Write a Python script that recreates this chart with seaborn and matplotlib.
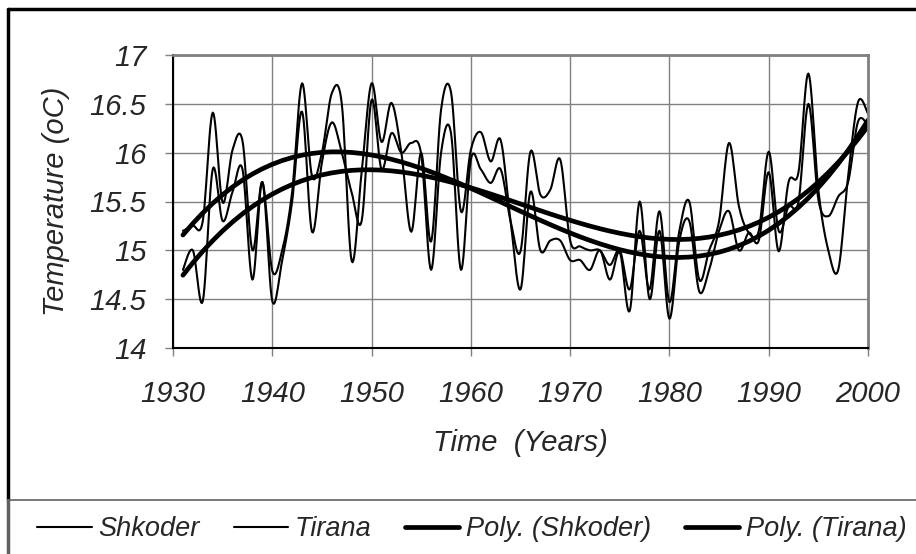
import numpy as np
import pandas as pd
import matplotlib
matplotlib.use('Agg')
import matplotlib.pyplot as plt
import seaborn as sns
from matplotlib.lines import Line2D

# data (yearly mean temperature)
years = list(range(1931, 2001))
shkoder = [15.20, 15.25, 15.30, 16.41, 15.49, 16.03, 16.12, 15.00, 15.70, 14.79,
           15.00, 15.60, 16.71, 15.76, 16.00, 16.61, 16.50, 14.89, 15.80, 16.71,
           16.11, 16.51, 16.00, 15.19, 16.00, 15.09, 16.44, 16.62, 15.40, 16.03,
           16.21, 15.91, 16.13, 15.30, 14.60, 15.60, 15.00, 15.10, 15.10, 14.90,
           14.90, 14.80, 15.00, 14.70, 14.98, 14.38, 15.50, 14.50, 15.20, 14.30,
           15.10, 15.30, 14.58, 14.80, 15.20, 15.40, 15.00, 15.18, 15.10, 15.80,
           14.99, 15.70, 15.80, 16.81, 15.62, 15.00, 14.80, 15.76, 16.52, 16.40]
tirana = [14.80, 15.00, 14.48, 15.83, 15.30, 15.60, 15.83, 14.70, 15.70, 14.48,
          14.90, 15.50, 16.42, 15.19, 15.90, 16.31, 16.00, 15.59, 15.30, 16.54,
          15.83, 16.20, 16.00, 16.10, 15.98, 14.80, 16.00, 16.20, 14.80, 15.93,
          15.83, 15.69, 15.83, 15.30, 14.99, 16.01, 15.57, 15.62, 15.93, 15.10,
          15.04, 15.00, 15.00, 14.85, 15.00, 14.60, 15.20, 14.60, 15.40, 14.47,
          15.20, 15.50, 14.70, 15.00, 15.30, 16.10, 15.45, 15.18, 15.20, 16.01,
          15.20, 15.45, 15.50, 16.50, 15.52, 15.35, 15.55, 15.70, 16.32, 16.28]
x_ticks = [1930, 1940, 1950, 1960, 1970, 1980, 1990, 2000]
y_ticks = [14, 14.5, 15, 15.5, 16, 16.5, 17]


# smooth curve through the points (like the spreadsheet "smoothed line")
def smooth(x, y, n=12):
    x = np.asarray(x, float)
    y = np.asarray(y, float)
    px = np.concatenate([[x[0]], x, [x[-1]]])
    py = np.concatenate([[y[0]], y, [y[-1]]])
    xs, ys = [], []
    for i in range(1, len(px) - 2):
        t = np.linspace(0, 1, n, endpoint=False)
        p0, p1, p2, p3 = py[i - 1], py[i], py[i + 1], py[i + 2]
        q0, q1, q2, q3 = px[i - 1], px[i], px[i + 1], px[i + 2]
        ys.append(0.5 * (2 * p1 + (-p0 + p2) * t + (2 * p0 - 5 * p1 + 4 * p2 - p3) * t ** 2
                         + (-p0 + 3 * p1 - 3 * p2 + p3) * t ** 3))
        xs.append(0.5 * (2 * q1 + (-q0 + q2) * t + (2 * q0 - 5 * q1 + 4 * q2 - q3) * t ** 2
                         + (-q0 + 3 * q1 - 3 * q2 + q3) * t ** 3))
    xs.append([x[-1]])
    ys.append([y[-1]])
    return np.concatenate(xs), np.concatenate(ys)


# 3rd order polynomial trend lines
yr = np.array(years, float)
fit_s = np.polyval(np.polyfit(yr - 1965, shkoder, 3), yr - 1965)
fit_t = np.polyval(np.polyfit(yr - 1965, tirana, 3), yr - 1965)

sns.set_style('white')
plt.rcParams['font.family'] = ['Liberation Sans', 'DejaVu Sans']
plt.rcParams['font.style'] = 'italic'

fig = plt.figure(figsize=(9.16, 5.54), dpi=100)
ax = fig.add_axes([173 / 916, 1 - 348 / 554, 695 / 916, 293 / 554])

sx, sy = smooth(years, shkoder)
tx, ty = smooth(years, tirana)
sns.lineplot(x=sx, y=sy, ax=ax, color='black', lw=1.5, sort=False, estimator=None)
sns.lineplot(x=tx, y=ty, ax=ax, color='black', lw=1.5, sort=False, estimator=None)
sns.lineplot(x=years, y=fit_s, ax=ax, color='black', lw=3.4, estimator=None)
sns.lineplot(x=years, y=fit_t, ax=ax, color='black', lw=3.4, estimator=None)

ax.set_xlim(1930, 2000)
ax.set_ylim(14, 17)
ax.set_xticks(x_ticks)
ax.set_yticks(y_ticks)
ax.set_yticklabels([f'{v:g}' for v in y_ticks])
ax.grid(True, color='#808080', lw=1)
ax.tick_params(axis='both', labelsize=21, direction='out', length=6, width=1,
               color='#808080', left=True, bottom=True)
ax.tick_params(axis='x', pad=17)
ax.tick_params(axis='y', pad=13)
for side in ['top', 'right']:
    ax.spines[side].set_color('#808080')
    ax.spines[side].set_linewidth(2)
for side in ['left', 'bottom']:
    ax.spines[side].set_color('black')
    ax.spines[side].set_linewidth(1.5)

ax.set_xlabel('Time  (Years)', fontsize=21, style='italic', labelpad=15)
ax.set_ylabel('Temperature (oC)', fontsize=21, style='italic', labelpad=14)

# outer frame and legend box
fig.add_artist(Line2D([8 / 916, 1], [1 - 9 / 554, 1 - 9 / 554], color='black', lw=2.5))
fig.add_artist(Line2D([8 / 916, 8 / 916], [1 - 9 / 554, 1 - 500 / 554], color='black', lw=2.5))
fig.add_artist(Line2D([8 / 916, 8 / 916], [0, 1 - 500 / 554], color='#606060', lw=2.5))
fig.add_artist(Line2D([8 / 916, 1], [1 - 500 / 554, 1 - 500 / 554], color='#606060', lw=1.2))

handles = [Line2D([], [], color='black', lw=1.5),
           Line2D([], [], color='black', lw=1.5),
           Line2D([], [], color='black', lw=3.4),
           Line2D([], [], color='black', lw=3.4)]
labels = ['Shkoder', 'Tirana', 'Poly. (Shkoder)', 'Poly. (Tirana)']
fig.legend(handles, labels, loc='center', bbox_to_anchor=(472 / 916, 1 - 529 / 554), ncol=4,
           frameon=False, handlelength=2.0, handletextpad=0.25,
           columnspacing=1.25, prop={'style': 'italic', 'size': 19.5})

fig.savefig('out.png', dpi=100)
